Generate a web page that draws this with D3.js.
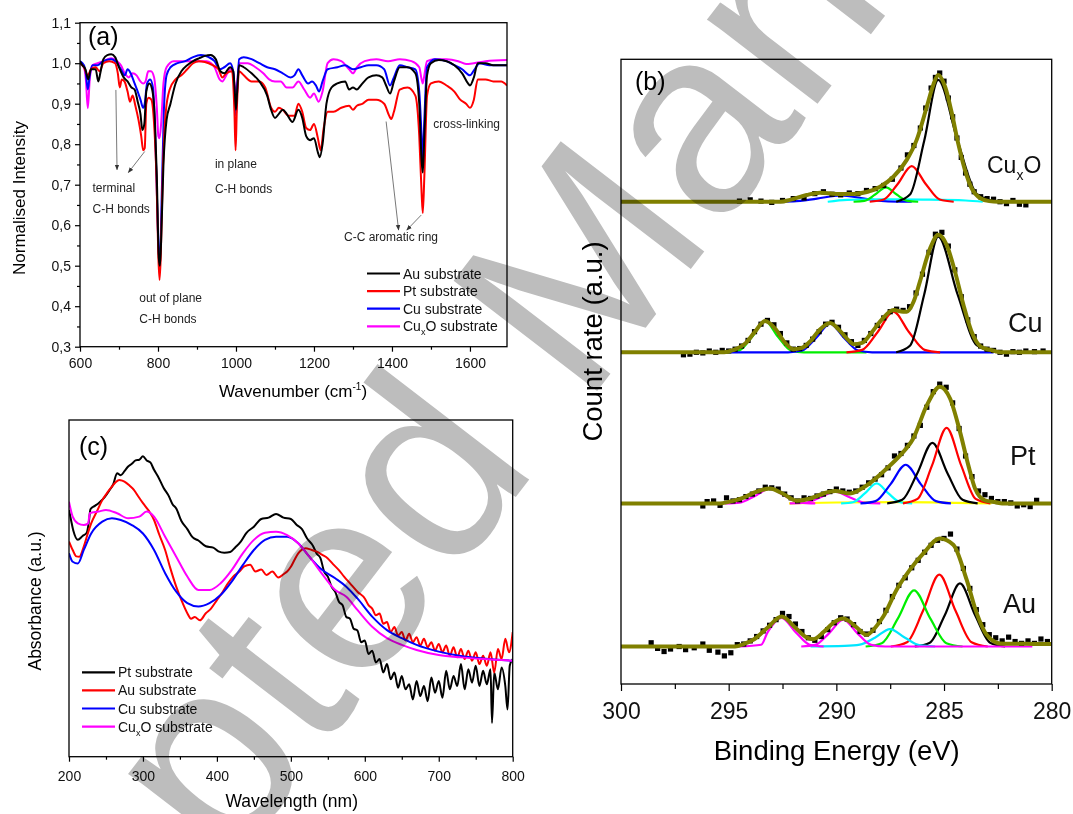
<!DOCTYPE html>
<html><head><meta charset="utf-8">
<script src="https://cdn.jsdelivr.net/npm/d3@7"></script>
<style>
body{margin:0;background:#fff}
svg text{font-family:"Liberation Sans",Arial,Helvetica,sans-serif}
</style></head><body>
<svg id="fig" width="1073" height="814"></svg>
<script>
// ---------- (a) FTIR, normalised intensity vs wavenumber ----------
const ftirAu = [[600,1.005],[606,0.995],[614,0.985],[621,0.96],[628,0.985],[640,0.985],[647,0.955],[652,0.975],[660,1.01],[670,1.02],[680,1.022],[690,1.015],[700,0.99],[712,0.965],[722,0.955],[732,0.94],[740,0.935],[748,0.905],[755,0.875],[760,0.835],[765,0.85],[770,0.93],[778,0.95],[785,0.935],[792,0.86],[797,0.72],[802,0.52],[805,0.5],[808,0.56],[814,0.75],[822,0.86],[832,0.9],[845,0.95],[860,0.98],[875,0.995],[890,1.005],[905,1.012],[920,1.018],[935,1.02],[948,1.01],[960,0.98],[970,0.975],[985,0.99],[993,0.98],[997,0.93],[1000,0.885],[1003,0.93],[1008,0.995],[1020,0.99],[1040,0.975],[1060,0.955],[1080,0.92],[1090,0.885],[1100,0.865],[1110,0.875],[1120,0.885],[1130,0.875],[1145,0.855],[1160,0.885],[1170,0.865],[1180,0.82],[1190,0.81],[1200,0.815],[1210,0.78],[1215,0.768],[1222,0.8],[1232,0.9],[1245,0.94],[1260,0.95],[1280,0.955],[1290,0.935],[1300,0.94],[1310,0.935],[1320,0.945],[1340,0.965],[1360,0.97],[1375,0.965],[1385,0.945],[1395,0.925],[1405,0.955],[1420,0.99],[1440,0.99],[1460,0.975],[1470,0.9],[1476,0.76],[1479,0.73],[1483,0.82],[1490,0.97],[1500,1.0],[1520,1.008],[1540,1.005],[1560,0.995],[1580,0.975],[1595,0.95],[1600,0.945],[1610,0.965],[1620,1.0],[1640,1.0],[1660,0.995],[1695,0.995]];
const ftirPt = [[600,1.0],[610,0.99],[620,0.97],[628,0.985],[640,0.99],[650,0.98],[660,1.0],[675,1.005],[690,1.0],[697,0.975],[702,0.94],[707,0.96],[714,0.955],[722,0.93],[728,0.905],[735,0.92],[742,0.895],[750,0.86],[757,0.82],[762,0.785],[766,0.79],[770,0.9],[776,0.915],[783,0.91],[790,0.85],[796,0.72],[801,0.52],[804,0.465],[807,0.52],[812,0.72],[820,0.88],[830,0.935],[845,0.96],[860,0.97],[875,0.985],[890,1.0],[905,1.005],[920,1.003],[940,0.995],[955,0.985],[965,0.965],[975,0.975],[990,0.98],[996,0.88],[999,0.785],[1002,0.88],[1008,0.98],[1020,0.97],[1040,0.955],[1060,0.955],[1075,0.94],[1090,0.89],[1100,0.88],[1110,0.89],[1120,0.885],[1135,0.87],[1150,0.87],[1160,0.9],[1170,0.88],[1180,0.84],[1190,0.835],[1200,0.85],[1210,0.815],[1217,0.785],[1225,0.84],[1235,0.88],[1250,0.88],[1270,0.89],[1290,0.895],[1300,0.885],[1310,0.895],[1325,0.9],[1340,0.91],[1360,0.91],[1380,0.9],[1393,0.87],[1398,0.862],[1405,0.88],[1420,0.935],[1440,0.94],[1460,0.92],[1470,0.82],[1476,0.68],[1479,0.63],[1483,0.72],[1490,0.92],[1500,0.95],[1520,0.955],[1540,0.945],[1560,0.93],[1575,0.91],[1590,0.9],[1600,0.89],[1610,0.91],[1620,0.96],[1640,0.96],[1660,0.955],[1680,0.955],[1695,0.945]];
const ftirCu = [[600,1.005],[610,0.995],[615,0.975],[620,0.935],[625,0.97],[632,0.995],[645,0.995],[660,1.005],[680,1.01],[695,1.0],[705,0.985],[715,0.97],[722,0.985],[730,0.975],[740,0.95],[748,0.93],[755,0.91],[762,0.89],[766,0.9],[772,0.95],[780,0.96],[787,0.94],[793,0.82],[798,0.65],[802,0.53],[805,0.52],[809,0.65],[815,0.88],[822,0.97],[832,0.99],[850,1.0],[870,1.005],[890,1.015],[910,1.02],[930,1.015],[945,1.005],[958,0.985],[970,0.99],[985,1.0],[993,0.98],[997,0.92],[1000,0.87],[1003,0.93],[1008,1.01],[1020,1.015],[1040,1.01],[1060,1.0],[1080,0.99],[1100,0.985],[1120,0.975],[1140,0.965],[1150,0.97],[1160,0.985],[1170,0.97],[1185,0.95],[1195,0.955],[1205,0.945],[1213,0.93],[1222,0.955],[1235,0.985],[1260,0.99],[1280,0.995],[1300,0.985],[1320,0.99],[1340,0.995],[1360,0.995],[1380,0.985],[1395,0.945],[1405,0.965],[1420,0.995],[1440,0.99],[1460,0.985],[1470,0.93],[1476,0.82],[1479,0.76],[1483,0.86],[1490,0.99],[1510,1.01],[1540,1.005],[1560,0.995],[1580,0.985],[1600,0.97],[1612,0.985],[1625,1.0],[1650,0.995],[1695,0.995]];
const ftirCuxO = [[600,1.0],[610,0.99],[615,0.96],[620,0.889],[625,0.96],[632,0.995],[645,1.0],[660,1.005],[680,1.012],[695,1.005],[705,0.995],[715,0.975],[725,0.965],[735,0.975],[745,0.97],[755,0.955],[762,0.95],[768,0.955],[775,0.98],[782,0.98],[790,0.965],[797,0.89],[801,0.82],[804,0.815],[808,0.85],[814,0.95],[822,0.99],[840,1.005],[870,1.005],[900,1.005],[925,1.005],[945,0.99],[958,0.96],[965,0.955],[975,0.97],[985,0.985],[993,0.975],[997,0.94],[1000,0.93],[1003,0.95],[1008,1.0],[1030,1.0],[1050,0.99],[1070,0.975],[1085,0.96],[1100,0.955],[1115,0.955],[1130,0.94],[1145,0.94],[1160,0.955],[1175,0.935],[1190,0.915],[1200,0.925],[1212,0.905],[1222,0.93],[1235,1.0],[1250,1.01],[1270,1.005],[1290,0.985],[1300,0.975],[1310,0.99],[1330,1.005],[1360,1.01],[1390,1.005],[1420,1.01],[1450,1.005],[1470,0.99],[1476,0.96],[1479,0.95],[1483,0.97],[1490,1.005],[1510,1.01],[1540,1.01],[1570,1.005],[1590,0.998],[1610,1.0],[1640,1.005],[1695,1.008]];
const ftirSeries = ["Au substrate", "Pt substrate", "Cu substrate", "CuxO substrate"];
const ftirXTicks = [600, 800, 1000, 1200, 1400, 1600];
const ftirYTicks = [0.3, 0.4, 0.5, 0.6, 0.7, 0.8, 0.9, 1.0, 1.1];
// annotation text anchors [wavenumber, intensity, text]
const ftirNotes = [[632, 0.683, "terminal"], [632, 0.63, "C-H bonds"], [752, 0.411, "out of plane"], [752, 0.358, "C-H bonds"],
  [946, 0.741, "in plane"], [946, 0.679, "C-H bonds"], [1277, 0.561, "C-C aromatic ring"], [1506, 0.839, "cross-linking"]];
// arrows [from w, from I, to w, to I]
const ftirArrows = [[692, 0.934, 695, 0.737], [766, 0.782, 724, 0.73], [1385, 0.856, 1417, 0.588], [1475, 0.625, 1438, 0.588]];

// ---------- (c) UV-vis absorbance vs wavelength ----------
const uvPt = [[200,0.733],[203,0.7],[206,0.67],[212,0.644],[218,0.655],[224,0.665],[227,0.7],[229,0.735],[235,0.745],[240,0.753],[248,0.77],[255,0.792],[260,0.81],[265,0.842],[270,0.836],[275,0.848],[280,0.862],[285,0.87],[290,0.88],[295,0.882],[300,0.892],[305,0.88],[310,0.874],[315,0.852],[320,0.834],[328,0.798],[335,0.774],[340,0.75],[345,0.737],[352,0.7],[360,0.676],[367,0.652],[375,0.642],[385,0.625],[395,0.621],[402,0.61],[410,0.606],[418,0.608],[425,0.622],[432,0.638],[440,0.665],[450,0.683],[460,0.706],[470,0.71],[480,0.721],[490,0.71],[500,0.706],[508,0.688],[515,0.676],[522,0.648],[530,0.626],[535,0.603],[540,0.59],[545,0.55],[550,0.535],[555,0.505],[560,0.49],[565,0.46],[570,0.45],[575,0.415],[580,0.41],[585,0.38],[590,0.375],[595,0.34],[600,0.345],[605,0.305],[610,0.315],[615,0.28],[620,0.29],[625,0.25],[630,0.275],[635,0.23],[640,0.25],[645,0.205],[650,0.24],[655,0.2],[660,0.215],[665,0.17],[670,0.225],[675,0.18],[680,0.21],[685,0.165],[690,0.235],[695,0.19],[700,0.225],[705,0.175],[710,0.255],[715,0.2],[720,0.24],[725,0.21],[730,0.275],[735,0.2],[740,0.26],[745,0.22],[750,0.27],[755,0.21],[760,0.255],[765,0.215],[770,0.26],[772,0.1],[775,0.25],[780,0.2],[785,0.265],[790,0.21],[793,0.14],[796,0.27],[800,0.29]];
const uvAu = [[200,0.639],[205,0.614],[210,0.595],[214,0.594],[220,0.624],[225,0.66],[230,0.693],[238,0.73],[245,0.762],[252,0.785],[258,0.802],[263,0.815],[268,0.822],[272,0.82],[275,0.817],[282,0.805],[288,0.792],[294,0.772],[300,0.753],[308,0.73],[315,0.703],[322,0.66],[330,0.614],[337,0.56],[345,0.505],[352,0.465],[360,0.426],[365,0.41],[370,0.415],[377,0.405],[385,0.426],[392,0.44],[400,0.465],[408,0.49],[415,0.515],[422,0.535],[430,0.549],[437,0.565],[445,0.57],[452,0.55],[460,0.556],[467,0.54],[475,0.55],[483,0.532],[490,0.542],[495,0.55],[500,0.564],[505,0.585],[510,0.604],[515,0.615],[520,0.619],[527,0.615],[535,0.609],[542,0.6],[550,0.589],[557,0.572],[565,0.554],[572,0.535],[580,0.515],[590,0.49],[600,0.47],[605,0.45],[610,0.44],[615,0.42],[620,0.425],[625,0.395],[630,0.4],[635,0.37],[640,0.385],[645,0.36],[650,0.37],[655,0.345],[660,0.365],[665,0.34],[670,0.355],[675,0.33],[680,0.35],[685,0.325],[690,0.34],[695,0.315],[700,0.335],[705,0.31],[710,0.33],[715,0.3],[720,0.325],[725,0.295],[730,0.32],[735,0.29],[740,0.315],[745,0.285],[750,0.31],[755,0.275],[760,0.3],[765,0.27],[770,0.31],[775,0.25],[780,0.32],[785,0.29],[790,0.35],[795,0.31],[800,0.37]];
const uvCu = [[200,0.604],[205,0.579],[212,0.574],[220,0.614],[230,0.663],[245,0.698],[258,0.708],[270,0.703],[285,0.688],[300,0.663],[315,0.614],[330,0.545],[345,0.49],[360,0.456],[375,0.446],[390,0.456],[405,0.48],[420,0.52],[435,0.569],[450,0.614],[465,0.644],[480,0.653],[495,0.653],[510,0.634],[525,0.594],[540,0.559],[560,0.53],[575,0.505],[590,0.47],[610,0.416],[630,0.376],[650,0.352],[670,0.332],[700,0.312],[730,0.299],[760,0.292],[800,0.285]];
const uvCuxO = [[200,0.757],[205,0.713],[212,0.693],[220,0.688],[226,0.693],[228,0.723],[240,0.728],[250,0.733],[265,0.723],[280,0.708],[295,0.713],[305,0.728],[315,0.713],[330,0.653],[345,0.594],[360,0.535],[375,0.495],[390,0.495],[405,0.515],[420,0.554],[435,0.604],[450,0.644],[465,0.665],[480,0.668],[495,0.658],[510,0.634],[525,0.594],[545,0.535],[560,0.495],[575,0.475],[590,0.436],[610,0.386],[630,0.352],[650,0.332],[670,0.317],[700,0.302],[730,0.295],[760,0.29],[800,0.285]];
const uvSeries = ["Pt substrate", "Au substrate", "Cu substrate", "CuxO substrate"];
const uvXTicks = [200, 300, 400, 500, 600, 700, 800];

// ---------- (b) XPS C 1s, count rate vs binding energy ----------
const xpsLabels = ["Au", "Pt", "Cu", "CuxO"];
const xpsBaselines = [6.0, 28.9, 53.1, 77.2];
const xpsXTicks = [300, 295, 290, 285, 280];

const auEnv = [[300,0],[294.7,0],[294.3,0.4],[293.86,1.07],[293.2,3.0],[292.54,4.8],[291.9,3.0],[291.4,1.5],[291.07,1.17],[290.6,2.3],[290.1,3.9],[289.68,4.5],[289.1,3.2],[288.59,1.87],[288.2,3.0],[287.82,4.8],[287.2,9.1],[286.58,12.3],[285.96,14.9],[285.19,17.3],[284.57,16.3],[283.95,10.7],[283.48,5.3],[283.02,1.87],[282.4,0.5],[281.5,0.45],[280.6,0.4],[280,0.4]];
const auPts = [[298.6,0.6],[298.3,-0.3],[298.0,-0.8],[297.7,-0.4],[297.3,0.0],[297.0,-0.5],[296.6,-0.2],[296.2,0.4],[295.9,-0.6],[295.5,-0.9],[295.2,-1.5],[294.9,-1.0],[294.6,0.3],[294.3,0.4],[294.0,0.9],[293.7,1.6],[293.4,2.5],[293.1,3.4],[292.8,4.3],[292.5,5.3],[292.2,4.8],[291.9,3.6],[291.6,2.4],[291.3,1.4],[291.0,1.0],[290.7,1.6],[290.4,2.7],[290.1,3.8],[289.8,4.6],[289.5,4.4],[289.2,3.5],[288.9,2.4],[288.6,2.0],[288.3,2.6],[288.0,4.0],[287.7,5.8],[287.4,8.0],[287.1,9.8],[286.8,11.0],[286.5,12.6],[286.2,13.8],[285.9,15.1],[285.6,16.2],[285.3,17.0],[285.0,17.3],[284.7,18.0],[284.4,15.6],[284.1,12.5],[283.8,9.3],[283.5,5.9],[283.2,3.5],[282.9,1.9],[282.6,1.4],[282.3,0.9],[282.0,1.5],[281.7,0.8],[281.4,0.5],[281.1,0.9],[280.8,0.5],[280.5,1.2],[280.2,0.8]];
const auPeaks = [
  [[286.36,0],[285.66,0.61],[284.96,5.05],[284.26,10.1],[283.56,5.05],[282.86,0.61],[282.16,0]],
  [[287.47,0],[286.72,0.69],[285.97,5.75],[285.22,11.5],[284.47,5.75],[283.72,0.69],[282.97,0]],
  [[288.64,0],[287.89,0.54],[287.14,4.5],[286.39,9.0],[285.64,4.5],[284.89,0.54],[284.14,0]],
  [[291.2,0],[289.61,0.1],[288.91,0.3],[288.21,1.4],[287.51,2.8],[286.81,1.4],[286.11,0.17],[285.41,0]],
  [[294.5,0],[293.49,0.28],[293.19,2.3],[292.54,4.6],[291.89,2.3],[291.24,0.28],[290.59,0]],
  [[291.63,0],[290.98,0.26],[290.33,2.15],[289.68,4.3],[289.03,2.15],[288.38,0.26],[287.73,0],[280.9,0]]
];

const ptEnv = [[300,0],[295.4,0],[295.0,0.25],[294.4,0.8],[293.7,1.9],[293.08,2.4],[292.5,1.6],[291.84,0.45],[291.2,0.8],[290.6,1.6],[290.06,2.0],[289.37,1.6],[288.59,2.9],[287.66,5.6],[287.04,7.7],[286.43,10.4],[285.8,15.7],[285.19,18.7],[284.72,16.8],[284.26,11.5],[283.87,6.1],[283.56,2.4],[283.1,0.5],[282.6,0.2],[282.3,0],[280,0]];
const ptPts = [[296.2,-0.4],[296.0,0.3],[295.7,0.4],[295.4,-0.3],[295.1,0.9],[294.8,0.4],[294.5,0.6],[294.2,1.1],[293.9,1.5],[293.6,2.0],[293.3,2.6],[293.0,2.5],[292.7,2.3],[292.4,1.5],[292.1,0.9],[291.8,0.4],[291.5,0.9],[291.2,0.8],[290.9,1.2],[290.6,1.5],[290.3,1.9],[290.0,2.3],[289.7,2.0],[289.4,1.8],[289.1,2.0],[288.8,2.6],[288.5,3.3],[288.2,3.9],[287.9,4.6],[287.6,5.7],[287.3,7.6],[287.0,8.0],[286.7,9.3],[286.4,10.8],[286.1,12.5],[285.8,15.4],[285.5,17.9],[285.2,19.1],[284.9,18.6],[284.6,16.1],[284.3,12.0],[284.0,7.6],[283.7,4.3],[283.4,2.0],[283.1,1.4],[282.8,0.8],[282.5,0.3],[282.2,0.3],[281.9,0.1],[281.6,-0.4],[281.3,-0.2],[281.0,-0.5],[280.7,0.5]];
const ptPeaks = [
  [[292.2,0],[290,0.15],[287,0.2],[284.5,0.1],[282.8,0]],
  [[295.18,0],[294.48,0.14],[293.78,1.2],[293.08,2.4],[292.38,1.2],[291.68,0.14],[290.98,0]],
  [[292.16,0],[291.46,0.11],[290.76,0.95],[290.06,1.9],[289.36,0.95],[288.66,0.11],[287.96,0]],
  [[289.78,0],[289.23,0.19],[288.68,1.6],[288.13,3.2],[287.58,1.6],[287.03,0.19],[286.48,0]],
  [[288.88,0],[288.18,0.37],[287.48,3.1],[286.78,6.2],[286.08,3.1],[285.38,0.37],[284.68,0]],
  [[287.64,0],[286.94,0.58],[286.24,4.85],[285.54,9.7],[284.84,4.85],[284.14,0.58],[283.44,0]],
  [[286.91,0],[286.23,0.73],[285.56,6.05],[284.88,12.1],[284.2,6.05],[283.53,0.73],[282.85,0]]
];

const cuEnv = [[300,0],[295.2,0],[294.8,0.35],[294.2,1.5],[293.8,3.2],[293.31,5.0],[292.8,3.6],[292.4,1.6],[292.0,0.5],[291.6,0.7],[291.2,1.8],[290.8,3.5],[290.29,4.7],[289.8,3.3],[289.4,1.8],[289.21,1.3],[288.8,1.5],[288.4,3.0],[287.9,5.2],[287.35,6.77],[286.9,6.5],[286.73,6.5],[286.4,8.2],[286.12,11.3],[285.65,16.6],[285.27,18.8],[284.88,17.2],[284.49,12.9],[284.1,7.6],[283.72,3.3],[283.25,0.8],[282.8,0.35],[282.4,0],[280,0]];
const cuPts = [[297.1,-0.4],[296.8,-0.3],[296.5,0.0],[296.2,-0.1],[295.9,0.2],[295.6,0.0],[295.3,0.3],[295.0,0.2],[294.7,0.5],[294.4,1.0],[294.1,1.9],[293.8,3.3],[293.5,4.5],[293.2,5.1],[292.9,4.4],[292.6,3.0],[292.3,1.5],[292.0,0.5],[291.7,0.6],[291.4,1.1],[291.1,2.1],[290.8,3.3],[290.5,4.5],[290.2,4.8],[289.9,4.0],[289.6,2.8],[289.3,1.7],[289.0,1.1],[288.7,1.9],[288.4,3.0],[288.1,4.3],[287.8,5.5],[287.5,6.5],[287.2,6.9],[286.9,6.7],[286.6,7.3],[286.3,9.5],[286.0,12.5],[285.7,16.0],[285.4,18.9],[285.1,19.2],[284.8,17.0],[284.5,13.2],[284.2,8.9],[283.9,5.2],[283.6,2.5],[283.3,1.0],[283.0,0.5],[282.7,0.3],[282.4,0.0],[282.1,-0.3],[281.8,0.1],[281.5,0.0],[281.2,0.2],[280.8,0.1],[280.4,0.2]];
const cuPeaks = [
  [[295.11,0],[294.51,0.3],[293.91,2.5],[293.31,5.0],[292.71,2.5],[292.11,0.3],[291.51,0],[288.6,0]],
  [[294.9,0],[292.24,0],[291.59,0.28],[290.94,2.3],[290.29,4.6],[289.64,2.3],[288.99,0.28],[288.34,0],[282.7,0]],
  [[289.53,0],[288.8,0.39],[288.08,3.25],[287.35,6.5],[286.63,3.25],[285.9,0.39],[285.18,0]],
  [[287.22,0],[286.57,1.1],[285.92,9.25],[285.27,18.5],[284.37,9.25],[283.47,1.1],[282.57,0]]
];

const cuxoEnv = [[300,0],[292.6,0],[292.15,0.3],[291.38,1.07],[290.76,1.45],[289.98,1.25],[289.21,1.25],[288.59,1.55],[287.97,2.4],[287.35,4.0],[286.73,6.7],[286.27,9.9],[285.8,15.2],[285.5,18.7],[285.27,20.3],[284.95,18.4],[284.64,14.2],[284.34,9.3],[284.03,5.1],[283.71,2.1],[283.33,0.6],[282.9,0.1],[282.5,0],[280,0]];
const cuxoPts = [[294.5,0.1],[294.0,0.3],[293.5,0.1],[293.0,-0.1],[292.5,0.2],[292.0,0.5],[291.5,0.6],[291.0,1.3],[290.6,1.6],[290.2,1.2],[289.8,1.1],[289.4,1.4],[289.0,1.3],[288.6,1.8],[288.2,2.1],[287.8,2.6],[287.4,3.6],[287.0,5.4],[286.7,7.5],[286.4,9.0],[286.1,11.8],[285.85,15.0],[285.6,18.2],[285.4,19.9],[285.2,20.6],[285.0,19.3],[284.8,16.6],[284.6,13.6],[284.4,10.2],[284.2,7.1],[284.0,4.6],[283.8,2.8],[283.6,1.6],[283.3,0.8],[283.0,0.5],[282.7,0.4],[282.4,0.0],[282.1,-0.3],[281.8,0.2],[281.5,-0.4],[281.2,-0.5]];
const cuxoPeaks = [
  [[293.1,0],[292.0,0.06],[290.9,0.5],[289.8,1.0],[288.7,0.5],[287.6,0.06],[286.5,0]],
  [[290.4,0],[289.5,0.3],[288,0.4],[286,0.35],[284,0.2],[283.2,0]],
  [[289.2,0],[288.7,0.14],[288.2,1.15],[287.7,2.3],[287.2,1.15],[286.7,0.14],[286.2,0]],
  [[288.45,0],[287.8,0.35],[287.15,2.85],[286.5,5.7],[285.85,2.85],[285.2,0.35],[284.55,0]],
  [[287.22,0],[286.57,1.2],[285.92,9.75],[285.27,19.5],[284.37,9.75],[283.47,1.2],[282.57,0]]
];

// ---------------------------------------------------------------
const svg = d3.select('#fig')
svg.append('rect').attr('width', 1073).attr('height', 814).attr('fill', '#fff')

const curveColors = ['#000000', '#ff0000', '#0000ff', '#ff00ff']
const comma = d => d3.format('.1f')(d).replace('.', ',')

function styleAxis(sel, size) {
    sel.select('.domain').remove()
    sel.selectAll('line').attr('stroke', '#000').attr('stroke-width', 1.2)
    sel.selectAll('text').attr('fill', '#111').style('font-size', size + 'px')
    sel.attr('font-family', null).attr('font-size', null)
}

function frame(g, x, y) {
    const [x0, x1] = x.range(), [y0, y1] = y.range()
    g.append('rect')
        .attr('x', x0).attr('y', y1)
        .attr('width', x1 - x0).attr('height', y0 - y1)
        .attr('fill', 'none').attr('stroke', '#000').attr('stroke-width', 1.3)
}

function bottomAxis(g, x, y, major, minor, fmt, size, tick, pad) {
    g.append('g').attr('transform', `translate(0,${y.range()[0]})`)
        .call(d3.axisBottom(x).tickValues(minor).tickSize(tick - 2).tickFormat(''))
        .call(s => styleAxis(s, size))
    g.append('g').attr('transform', `translate(0,${y.range()[0]})`)
        .call(d3.axisBottom(x).tickValues(major).tickSize(tick).tickPadding(pad).tickFormat(fmt))
        .call(s => styleAxis(s, size))
}

function legend(g, x, y0, dy, names, colors) {
    names.forEach((n, i) => {
        const y = y0 + i * dy
        g.append('line').attr('x1', x).attr('x2', x + 33).attr('y1', y).attr('y2', y)
            .attr('stroke', colors[i]).attr('stroke-width', 2.2)
        const t = g.append('text').attr('x', x + 36).attr('y', y + 5).style('font-size', '14px').attr('fill', '#111')
        if (n.startsWith('CuxO')) {
            t.append('tspan').text('Cu')
            t.append('tspan').text('x').style('font-size', '9px').attr('dy', 4)
            t.append('tspan').text(n.slice(3)).attr('dy', -4)
        } else t.text(n)
    })
}

// ---------- panel (a) ----------
const xA = d3.scaleLinear().domain([600, 1695]).range([80, 507])
const yA = d3.scaleLinear().domain([0.3, 1.1]).range([346.7, 22.7])
const gA = svg.append('g')
gA.append('clipPath').attr('id', 'clipA').append('rect')
    .attr('x', 80).attr('y', 22.7).attr('width', 427).attr('height', 324)
const lineA = d3.line().x(d => xA(d[0])).y(d => yA(d[1])).curve(d3.curveMonotoneX)
const ftirData = [ftirAu, ftirPt, ftirCu, ftirCuxO]
ftirData.slice().reverse().forEach((s, i) => {
    gA.append('path').datum(s).attr('d', lineA).attr('clip-path', 'url(#clipA)')
        .attr('fill', 'none').attr('stroke', curveColors[3 - i]).attr('stroke-width', 2)
})
gA.append('defs').append('marker').attr('id', 'arr').attr('viewBox', '0 0 10 10')
    .attr('refX', 9).attr('refY', 5).attr('markerWidth', 7).attr('markerHeight', 7)
    .attr('orient', 'auto').append('path').attr('d', 'M0,1 L10,5 L0,9 Z').attr('fill', '#333')
ftirArrows.forEach(a => {
    gA.append('line').attr('x1', xA(a[0])).attr('y1', yA(a[1])).attr('x2', xA(a[2])).attr('y2', yA(a[3]))
        .attr('stroke', '#555').attr('stroke-width', 0.8).attr('marker-end', 'url(#arr)')
})
ftirNotes.forEach(n => {
    gA.append('text').attr('x', xA(n[0])).attr('y', yA(n[1])).text(n[2])
        .style('font-size', '12px').attr('fill', '#222')
})
frame(gA, xA, yA)
bottomAxis(gA, xA, yA, ftirXTicks, d3.range(700, 1700, 200), d3.format('d'), 14, 5, 6)
gA.append('g').attr('transform', 'translate(80,0)')
    .call(d3.axisLeft(yA).tickValues(d3.range(0.35, 1.1, 0.1)).tickSize(3).tickFormat(''))
    .call(s => styleAxis(s, 14))
gA.append('g').attr('transform', 'translate(80,0)')
    .call(d3.axisLeft(yA).tickValues(ftirYTicks).tickSize(5).tickPadding(4).tickFormat(comma))
    .call(s => styleAxis(s, 14))
gA.append('text').attr('x', 88).attr('y', 45).text('(a)').style('font-size', '25px')
const tA = gA.append('text').attr('x', 293).attr('y', 397).attr('text-anchor', 'middle').style('font-size', '17px')
tA.append('tspan').text('Wavenumber (cm')
tA.append('tspan').text('-1').style('font-size', '10px').attr('dy', -7)
tA.append('tspan').text(')').attr('dy', 7)
gA.append('text').attr('transform', 'translate(25,198) rotate(-90)').attr('text-anchor', 'middle')
    .style('font-size', '17px').text('Normalised Intensity')
legend(gA, 367, 273.5, 17.6, ftirSeries, curveColors)

// ---------- panel (c) ----------
const xC = d3.scaleLinear().domain([200, 800]).range([69, 512.7])
const yC = d3.scaleLinear().domain([0, 1]).range([756.7, 420])
const gC = svg.append('g')
gC.append('clipPath').attr('id', 'clipC').append('rect')
    .attr('x', 69).attr('y', 420).attr('width', 443.7).attr('height', 336.7)
const lineC = d3.line().x(d => xC(d[0])).y(d => yC(d[1])).curve(d3.curveMonotoneX)
const uvData = [uvPt, uvAu, uvCu, uvCuxO]
uvData.forEach((s, i) => {
    gC.append('path').datum(s).attr('d', lineC).attr('clip-path', 'url(#clipC)')
        .attr('fill', 'none').attr('stroke', curveColors[i]).attr('stroke-width', 2)
})
frame(gC, xC, yC)
bottomAxis(gC, xC, yC, uvXTicks, d3.range(250, 800, 100), d3.format('d'), 14, 5, 9)
gC.append('text').attr('x', 79).attr('y', 455).text('(c)').style('font-size', '25px')
gC.append('text').attr('x', 291.7).attr('y', 807).attr('text-anchor', 'middle')
    .style('font-size', '17.5px').text('Wavelength (nm)')
gC.append('text').attr('transform', 'translate(41,601) rotate(-90)').attr('text-anchor', 'middle')
    .style('font-size', '17.5px').text('Absorbance (a.u.)')
legend(gC, 82, 672.3, 18.1, uvSeries, curveColors)

// ---------- panel (b) ----------
const xB = d3.scaleLinear().domain([300, 280]).range([621, 1051.7])
const yB = d3.scaleLinear().domain([0, 100]).range([684, 59.3])
const gB = svg.append('g')
gB.append('clipPath').attr('id', 'clipB').append('rect')
    .attr('x', 621).attr('y', 59.3).attr('width', 430.7).attr('height', 624.7)
const peakColors = {
    Au: ['#000000', '#ff0000', '#00ee00', '#00e5ff', '#ff00ff', '#ff00ff'],
    Pt: ['#ffff00', '#ff00ff', '#ff00ff', '#00ffff', '#0000ff', '#000000', '#ff0000'],
    Cu: ['#00ee00', '#0000ff', '#ff0000', '#000000'],
    CuxO: ['#0000ff', '#00ffff', '#00ee00', '#ff0000', '#000000']
}
const xpsData = {
    Au: [auPeaks, auPts, auEnv], Pt: [ptPeaks, ptPts, ptEnv],
    Cu: [cuPeaks, cuPts, cuEnv], CuxO: [cuxoPeaks, cuxoPts, cuxoEnv]
}
xpsLabels.forEach((name, k) => {
    const off = xpsBaselines[k]
    const line = d3.line().x(d => xB(d[0])).y(d => yB(d[1] + off)).curve(d3.curveMonotoneX)
    const [peaks, pts, env] = xpsData[name]
    const g = gB.append('g').attr('clip-path', 'url(#clipB)')
    peaks.forEach((p, i) => {
        g.append('path').datum(p).attr('d', line).attr('fill', 'none')
            .attr('stroke', peakColors[name][i]).attr('stroke-width', 2.2)
    })
    g.selectAll('rect.pt').data(pts).enter().append('rect').attr('class', 'pt')
        .attr('x', d => xB(d[0]) - 2.6).attr('y', d => yB(d[1] + off) - 2.6)
        .attr('width', 5.2).attr('height', 5.2).attr('fill', '#000')
    g.append('path').datum(env).attr('d', line).attr('fill', 'none')
        .attr('stroke', '#808000').attr('stroke-width', 4)
})
frame(gB, xB, yB)
bottomAxis(gB, xB, yB, xpsXTicks, [297.5, 292.5, 287.5, 282.5], d3.format('d'), 23, 7, 12)
gB.append('text').attr('x', 635).attr('y', 90).text('(b)').style('font-size', '25px')
const labPos = { Au: [1003, 613], Pt: [1010, 465], Cu: [1008, 332], CuxO: [987, 173] }
xpsLabels.forEach(name => {
    const t = gB.append('text').attr('x', labPos[name][0]).attr('y', labPos[name][1]).attr('fill', '#111')
    if (name === 'CuxO') {
        t.style('font-size', '23px')
        t.append('tspan').text('Cu')
        t.append('tspan').text('x').style('font-size', '14px').attr('dy', 7)
        t.append('tspan').text('O').attr('dy', -7)
    } else t.style('font-size', '27px').text(name)
})
gB.append('text').attr('x', 836.7).attr('y', 760).attr('text-anchor', 'middle')
    .style('font-size', '27.5px').text('Binding Energy (eV)')
gB.append('text').attr('transform', 'translate(602,341.5) rotate(-90)').attr('text-anchor', 'middle')
    .style('font-size', '27.5px').text('Count rate (a.u.)')

// ---------- watermark ----------
svg.append('text').attr('transform', 'translate(-128,1336) rotate(-52.5)')
    .style('font-size', '263px').attr('fill', '#bdbdbd')
    .style('mix-blend-mode', 'multiply').text('Accepted Manuscript')
</script></body></html>
